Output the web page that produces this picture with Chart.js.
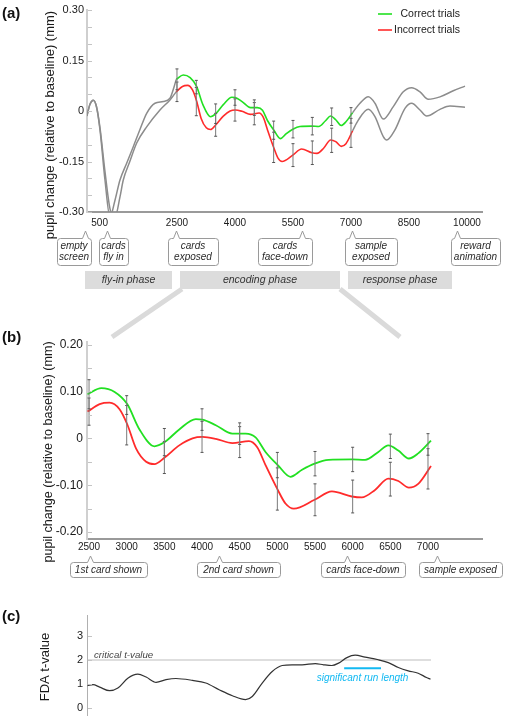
<!DOCTYPE html>
<html>
<head>
<meta charset="utf-8">
<script src="https://cdn.jsdelivr.net/npm/chart.js@4.4.1/dist/chart.umd.min.js"></script>
<style>
  body { margin: 0; background: #fff; }
  #wrap { position: relative; width: 505px; height: 716px; overflow: hidden; }
  canvas { position: absolute; left: 0; }
</style>
</head>
<body>
<div id="wrap">
  <canvas id="ca" width="505" height="232" style="top:0px"></canvas>
  <canvas id="cb" width="505" height="230" style="top:330px"></canvas>
  <canvas id="cc" width="505" height="127" style="top:600px"></canvas>
  <canvas id="ov" width="505" height="716" style="top:0px"></canvas>
</div>
<script>
// ---- data (time in ms, pupil change in mm) ----
// before the encoding phase (both conditions, grey)
const preTimeCorrect = [170, 250, 336, 420, 509, 638, 767, 897, 1026, 1199, 1370, 1543, 1716, 1931, 2146, 2319, 2420, 2480];
const preCorrect = [-0.015, 0.020, 0.032, 0.012, -0.056, -0.205, -0.315, -0.265, -0.205, -0.155, -0.106, -0.055, -0.007, 0.023, 0.028, 0.038, 0.070, 0.094];
const preTimeIncorrect = [170, 250, 336, 420, 509, 638, 767, 897, 1026, 1111, 1280, 1458, 1716, 2060, 2319, 2420, 2480];
const preIncorrect = [-0.015, 0.020, 0.032, 0.012, -0.050, -0.180, -0.290, -0.315, -0.255, -0.205, -0.150, -0.095, -0.047, 0.003, 0.033, 0.048, 0.057];

// encoding phase
const encTimeCorrect = [2480, 2663, 2840, 3007, 3170, 3368, 3504, 3698, 3918, 4006, 4183, 4403, 4579, 4711, 4843, 5006, 5174, 5328, 5495, 5680, 5989, 6165, 6341, 6473, 6606, 6746, 6870, 7040];
const encCorrect = [0.094, 0.107, 0.099, 0.073, 0.019, -0.017, -0.008, 0.019, 0.041, 0.040, 0.028, 0.010, 0.010, 0.002, -0.029, -0.057, -0.082, -0.067, -0.054, -0.046, -0.045, -0.046, -0.029, -0.015, -0.026, -0.043, -0.032, -0.005];
const encTimeIncorrect = [2480, 2641, 2773, 2905, 3007, 3125, 3258, 3368, 3504, 3698, 3874, 4006, 4183, 4403, 4623, 4733, 4843, 5006, 5108, 5218, 5495, 5724, 5989, 6121, 6297, 6473, 6606, 6746, 6870, 7040];
const encIncorrect = [0.057, 0.073, 0.076, 0.062, 0.030, -0.022, -0.050, -0.055, -0.041, -0.015, 0.000, 0.003, -0.001, -0.010, -0.006, -0.019, -0.057, -0.110, -0.139, -0.150, -0.131, -0.113, -0.124, -0.126, -0.110, -0.086, -0.091, -0.105, -0.097, -0.059];

// after the encoding phase (grey)
const postTimeCorrect = [7040, 7232, 7448, 7620, 7835, 8094, 8352, 8569, 8784, 8998, 9301, 9645, 9948];
const postCorrect = [-0.005, 0.023, 0.042, 0.023, -0.024, 0.013, 0.057, 0.069, 0.057, 0.035, 0.042, 0.060, 0.074];
const postTimeIncorrect = [7040, 7189, 7448, 7620, 7835, 7922, 8137, 8396, 8569, 8784, 8955, 9301, 9560, 9948];
const postIncorrect = [-0.059, -0.027, 0.005, -0.017, -0.076, -0.086, -0.056, 0.008, 0.023, 0.003, -0.015, 0.005, 0.015, 0.011];

// error bars
const barTime = [2500, 3000, 3500, 4000, 4500, 5000, 5500, 6000, 6500, 7000];
const barCorrect = [0.094, 0.071, -0.008, 0.040, 0.010, -0.057, -0.054, -0.045, -0.017, -0.013];
const barCorrectErr = [0.031, 0.020, 0.029, 0.023, 0.023, 0.027, 0.026, 0.026, 0.026, 0.023];
const barIncorrect = [0.057, 0.028, -0.041, 0.003, -0.008, -0.108, -0.131, -0.124, -0.087, -0.065];
const barIncorrectErr = [0.029, 0.042, 0.034, 0.033, 0.033, 0.045, 0.034, 0.035, 0.036, 0.043];

// FDA t-values
const fdaTime = [2480, 2553, 2641, 2773, 2883, 3015, 3148, 3258, 3390, 3522, 3654, 3874, 4050, 4227, 4403, 4579, 4667, 4799, 4932, 5064, 5196, 5328, 5504, 5614, 5724, 5813, 5923, 6033, 6165, 6341, 6473, 6606, 6738, 6870, 6980, 7033];
const fdaT = [0.93, 0.97, 0.87, 0.72, 0.83, 1.24, 1.41, 1.29, 1.07, 1.18, 1.23, 1.15, 1.04, 0.76, 0.51, 0.35, 0.48, 1.04, 1.52, 1.77, 1.80, 1.80, 1.85, 1.80, 1.77, 1.87, 2.10, 2.20, 2.12, 2.01, 1.89, 1.69, 1.55, 1.45, 1.27, 1.20];
const criticalT = 2.0;
const criticalSpan = [2480, 7040];
const sigRunSpan = [5887, 6376];
const sigRunLevel = 1.66;

// ticks
const xTicksA = [500, 2500, 4000, 5500, 7000, 8500, 10000];
const xTicksB = [2500, 3000, 3500, 4000, 4500, 5000, 5500, 6000, 6500, 7000];
const yTicksA = [-0.30, -0.25, -0.20, -0.15, -0.10, -0.05, 0, 0.05, 0.10, 0.15, 0.20, 0.25, 0.30];
const yLabelsA = [-0.30, -0.15, 0, 0.15, 0.30];
const yTicksB = [-0.20, -0.15, -0.10, -0.05, 0, 0.05, 0.10, 0.15, 0.20];
const yLabelsB = [-0.20, -0.10, 0, 0.10, 0.20];
const yTicksC = [0, 1, 2, 3];

const GREEN = '#22e022';
const RED = '#ff2b2b';
const GREY = '#8c8c8c';
const FONT = '"Liberation Sans", Arial, Helvetica, sans-serif';

Chart.defaults.font.family = FONT;
Chart.defaults.color = '#1a1a1a';

function pts(xs, ys) { return xs.map((x, i) => ({ x: x, y: ys[i] })); }
function errSegs(xs, mean, err) {
  const out = [];
  xs.forEach((x, i) => {
    out.push({ x: x, y: mean[i] - err[i] }, { x: x, y: mean[i] + err[i] }, { x: x, y: null });
  });
  return out;
}
function fmt(v) { return Math.abs(v) < 1e-9 ? '0' : v.toFixed(2); }
function labelled(list) {
  return v => list.some(l => Math.abs(l - v) < 1e-9) ? fmt(v) : '';
}

function curve(data, color, width) {
  return { data: data, borderColor: color, borderWidth: width, pointRadius: 0,
           cubicInterpolationMode: 'monotone', fill: false };
}
function errBars(data) {
  return { data: data, borderColor: '#7a7a7a', borderWidth: 1, pointRadius: 1.5,
           pointStyle: 'line', pointBorderColor: '#555', pointBorderWidth: 1,
           tension: 0, spanGaps: false, fill: false };
}

function xScale(min, max, ticks, height, pad, show) {
  return {
    type: 'linear', min: min, max: max, display: show,
    afterBuildTicks: s => { s.ticks = ticks.map(v => ({ value: v })); },
    afterFit: s => { s.height = height; },
    grid: { drawOnChartArea: false, drawTicks: false },
    border: { color: '#9a9a9a', width: 2 },
    ticks: { padding: pad, font: { size: 10 }, maxRotation: 0, autoSkip: false,
             callback: v => String(v) }
  };
}
function yScale(min, max, ticks, cb, size, pad, borderColor, borderWidth) {
  return {
    min: min, max: max,
    afterBuildTicks: s => { s.ticks = ticks.map(v => ({ value: v })); },
    afterFit: s => { s.width = 87; },
    grid: { drawOnChartArea: false, drawTicks: false },
    border: { color: borderColor, width: borderWidth },
    ticks: { padding: pad, font: { size: size }, autoSkip: false, callback: cb }
  };
}

const common = {
  responsive: false, animation: false, events: [],
  plugins: { legend: { display: false }, tooltip: { enabled: false } }
};

// (a) whole trial
const chartA = new Chart(document.getElementById('ca'), {
  type: 'line',
  data: { datasets: [
    errBars(errSegs(barTime, barCorrect, barCorrectErr)),
    errBars(errSegs(barTime, barIncorrect, barIncorrectErr)),
    curve(pts(encTimeCorrect, encCorrect), GREEN, 1.6),
    curve(pts(encTimeIncorrect, encIncorrect), RED, 1.6),
    curve(pts(preTimeCorrect, preCorrect), GREY, 1.5),
    curve(pts(preTimeIncorrect, preIncorrect), GREY, 1.5),
    curve(pts(postTimeCorrect, postCorrect), GREY, 1.5),
    curve(pts(postTimeIncorrect, postIncorrect), GREY, 1.5)
  ] },
  options: Object.assign({}, common, {
    layout: { padding: { top: 10, right: 23, bottom: 0, left: 0 } },
    scales: {
      x: xScale(173, 10388, xTicksA, 20, 5, true),
      y: yScale(-0.30, 0.30, yTicksA, labelled(yLabelsA), 11, 3, '#cfcfcf', 2)
    }
  })
});

// (b) encoding phase
const chartB = new Chart(document.getElementById('cb'), {
  type: 'line',
  data: { datasets: [
    errBars(errSegs(barTime, barCorrect, barCorrectErr)),
    errBars(errSegs(barTime, barIncorrect, barIncorrectErr)),
    curve(pts(encTimeCorrect, encCorrect), GREEN, 1.8),
    curve(pts(encTimeIncorrect, encIncorrect), RED, 1.8)
  ] },
  options: Object.assign({}, common, {
    layout: { padding: { top: 12, right: 23, bottom: 0, left: 0 } },
    scales: {
      x: xScale(2473, 7717, xTicksB, 21, 2, true),
      y: yScale(-0.2146, 0.2054, yTicksB, labelled(yLabelsB), 12, 4, '#d0d0d0', 2)
    }
  })
});

// (c) FDA t-values
const chartC = new Chart(document.getElementById('cc'), {
  type: 'line',
  data: { datasets: [
    curve(pts(fdaTime, fdaT), '#333', 1.2),
    { data: pts(criticalSpan, [criticalT, criticalT]), borderColor: '#bdbdbd', borderWidth: 1, pointRadius: 0, tension: 0 },
    { data: pts(sigRunSpan, [sigRunLevel, sigRunLevel]), borderColor: '#12b9f2', borderWidth: 2, pointRadius: 0, tension: 0 }
  ] },
  options: Object.assign({}, common, {
    layout: { padding: { top: 15, right: 23, bottom: 0, left: 0 } },
    scales: {
      x: xScale(2473, 7717, xTicksB, 0, 0, false),
      y: yScale(-0.35, 3.875, yTicksC, v => String(v), 11, 4, '#b0b0b0', 1)
    }
  })
});

// ---- annotations on the overlay ----
const ov = document.getElementById('ov');
const ctx = ov.getContext('2d');

function tickMarks(chart, offsetY) {
  const s = chart.scales.y;
  const left = chart.chartArea.left;
  ctx.strokeStyle = '#c4c4c4';
  ctx.lineWidth = 1;
  s.ticks.forEach(t => {
    const y = Math.round(s.getPixelForValue(t.value) + offsetY) + 0.5;
    ctx.beginPath(); ctx.moveTo(left + 1, y); ctx.lineTo(left + 5, y); ctx.stroke();
  });
}
tickMarks(chartA, 0);
tickMarks(chartB, 330);
tickMarks(chartC, 600);

function vText(text, x, y, size) {
  ctx.save();
  ctx.translate(x, y);
  ctx.rotate(-Math.PI / 2);
  ctx.font = size + 'px ' + FONT;
  ctx.fillStyle = '#1a1a1a';
  ctx.textAlign = 'center';
  ctx.textBaseline = 'middle';
  ctx.fillText(text, 0, 0);
  ctx.restore();
}
vText('pupil change (relative to baseline) (mm)', 50, 125, 13);
vText('pupil change (relative to baseline) (mm)', 49, 452, 12.6);
vText('FDA t-value', 45, 667, 13);

ctx.font = 'bold 15px ' + FONT;
ctx.fillStyle = '#111';
ctx.textAlign = 'left';
ctx.textBaseline = 'middle';
ctx.fillText('(a)', 2, 14);
ctx.fillText('(b)', 2, 338);
ctx.fillText('(c)', 2, 617);

// legend
ctx.lineWidth = 1.6;
ctx.strokeStyle = GREEN;
ctx.beginPath(); ctx.moveTo(378, 14); ctx.lineTo(392, 14); ctx.stroke();
ctx.strokeStyle = RED;
ctx.beginPath(); ctx.moveTo(378, 30); ctx.lineTo(392, 30); ctx.stroke();
ctx.font = '10.5px ' + FONT;
ctx.fillStyle = '#1a1a1a';
ctx.textAlign = 'right';
ctx.fillText('Correct trials', 460, 14);
ctx.fillText('Incorrect trials', 460, 30);

function callout(c, top, bottom, tipY, lines) {
  const r = 3, l = c.l + 0.5, rr = c.r + 0.5, tx = c.tip + 0.5;
  top += 0.5; bottom += 0.5;
  ctx.beginPath();
  ctx.moveTo(l + r, top);
  ctx.lineTo(tx - 3, top); ctx.lineTo(tx, tipY); ctx.lineTo(tx + 3, top);
  ctx.lineTo(rr - r, top); ctx.arcTo(rr, top, rr, top + r, r);
  ctx.lineTo(rr, bottom - r); ctx.arcTo(rr, bottom, rr - r, bottom, r);
  ctx.lineTo(l + r, bottom); ctx.arcTo(l, bottom, l, bottom - r, r);
  ctx.lineTo(l, top + r); ctx.arcTo(l, top, l + r, top, r);
  ctx.closePath();
  ctx.fillStyle = '#fff'; ctx.fill();
  ctx.strokeStyle = '#9a9a9a'; ctx.lineWidth = 1; ctx.stroke();
  ctx.font = 'italic 10px ' + FONT;
  ctx.fillStyle = '#2a2a2a';
  ctx.textAlign = 'center';
  ctx.textBaseline = 'middle';
  const cx = (c.l + c.r) / 2;
  const mid = (top + bottom) / 2;
  lines.forEach((t, i) => ctx.fillText(t, cx, mid + (i - (lines.length - 1) / 2) * 11));
}

const calloutsA = [
  { l: 57, r: 91, tip: 85, text: ['empty', 'screen'] },
  { l: 99, r: 128, tip: 107, text: ['cards', 'fly in'] },
  { l: 168, r: 218, tip: 176, text: ['cards', 'exposed'] },
  { l: 258, r: 312, tip: 302, text: ['cards', 'face-down'] },
  { l: 345, r: 397, tip: 352, text: ['sample', 'exposed'] },
  { l: 451, r: 500, tip: 457, text: ['reward', 'animation'] }
];
calloutsA.forEach(c => callout(c, 238, 265, 231, c.text));

// funnel from encoding phase to panel (b)
ctx.strokeStyle = '#dadada';
ctx.lineWidth = 5;
ctx.beginPath(); ctx.moveTo(182, 289); ctx.lineTo(112, 337); ctx.stroke();
ctx.beginPath(); ctx.moveTo(340, 289); ctx.lineTo(400, 337); ctx.stroke();

// phase bars
const phases = [
  { l: 85, r: 172, text: 'fly-in phase' },
  { l: 180, r: 340, text: 'encoding phase' },
  { l: 348, r: 452, text: 'response phase' }
];
phases.forEach(p => {
  ctx.fillStyle = '#dcdcdc';
  ctx.fillRect(p.l, 271, p.r - p.l, 18);
  ctx.font = 'italic 10.5px ' + FONT;
  ctx.fillStyle = '#333';
  ctx.textAlign = 'center';
  ctx.textBaseline = 'middle';
  ctx.fillText(p.text, (p.l + p.r) / 2, 280);
});

const calloutsB = [
  { l: 70, r: 147, tip: 90, text: ['1st card shown'] },
  { l: 197, r: 280, tip: 219, text: ['2nd card shown'] },
  { l: 321, r: 405, tip: 347, text: ['cards face-down'] },
  { l: 419, r: 502, tip: 437, text: ['sample exposed'] }
];
calloutsB.forEach(c => callout(c, 562, 577, 556, c.text));

// panel (c) texts
ctx.font = 'italic 9.7px ' + FONT;
ctx.fillStyle = '#444';
ctx.textAlign = 'left';
ctx.textBaseline = 'alphabetic';
ctx.fillText('critical t-value', 94, 658);
ctx.font = 'italic 10px ' + FONT;
ctx.fillStyle = '#12b9f2';
ctx.textAlign = 'center';
ctx.textBaseline = 'middle';
const xs = chartC.scales.x;
ctx.fillText('significant run length',
  (xs.getPixelForValue(sigRunSpan[0]) + xs.getPixelForValue(sigRunSpan[1])) / 2, 678);
</script>
</body>
</html>
